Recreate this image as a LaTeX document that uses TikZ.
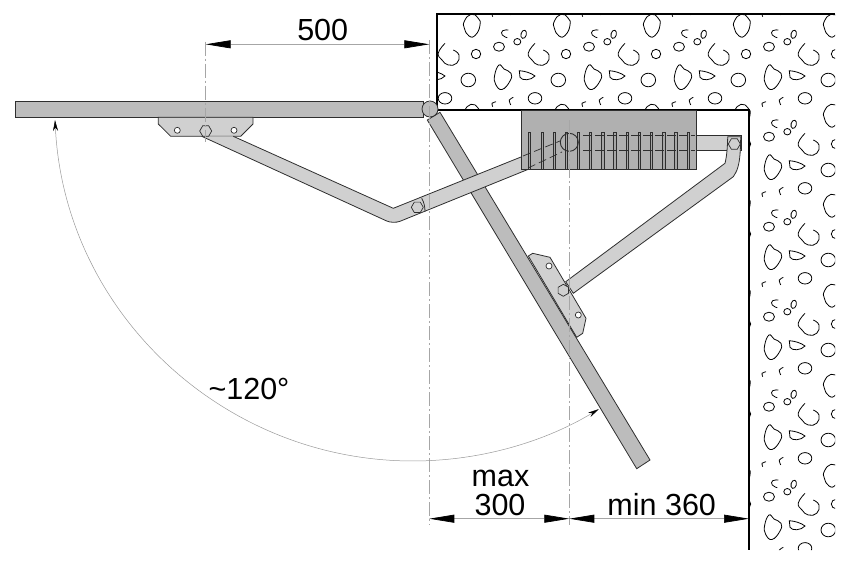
\documentclass[tikz,border=0pt]{standalone}
\usepackage{fontspec}
\setmainfont{Liberation Sans}
\usetikzlibrary{arrows.meta,shapes.geometric}
\definecolor{leafgray}{HTML}{BCBCBC}
\definecolor{armgray}{HTML}{D0D0D0}
\definecolor{blockgray}{HTML}{B0B0B0}
\definecolor{edgegray}{HTML}{2E2E2E}
\tikzset{
  stones/.pic={
    \draw plot [smooth cycle,tension=0.9] coordinates {(464.5,-21) (471,-14.3) (478,-18) (480,-25) (475.5,-35) (469,-36) (464.3,-28)};
    \draw plot [smooth,tension=0.9] coordinates {(508.3,-30) (502.7,-30.7) (502.3,-35) (507.3,-37.7)};
    \draw [rotate around={-15:(523.7,-34.3)}] (523.7,-34.3) ellipse (2.7 and 4.2);
    \draw (517.3,-41.7) ellipse (3.5 and 3.2);
    \draw (499,-46.7) ellipse (5.5 and 4.5);
    \draw plot [smooth,tension=0.8] coordinates {(535,-43.3) (528.3,-53) (532,-60) (538.3,-65) (546.7,-63.3) (549,-55) (543.3,-50)};
    \draw (476,-54) circle (4.7);
    \draw plot [smooth cycle,tension=0.8] coordinates {(494.7,-75) (499,-65) (504,-69) (511,-73.3) (510,-81) (502,-89.5) (495.5,-84)};
    \draw (519.3,-70.7) .. controls (525,-71) and (531,-73) .. (535,-76) .. controls (531,-80.5) and (522,-81) .. (520,-77.3) -- cycle;
    \draw (468.3,-80) ellipse (7.3 and 6.8);
    \draw (445,-98.3) ellipse (6.8 and 5.7);
    \draw plot [smooth] coordinates {(496,-101.7) (492,-103.3) (492.7,-106.7)};
    \draw plot [smooth] coordinates {(513.3,-97.3) (509.3,-100) (510.7,-105)};
  },
  boltnode/.style={draw=edgegray,regular polygon,regular polygon sides=6,minimum size=12pt,inner sep=0pt,line width=0.7pt},
  holenode/.style={draw=edgegray,fill=white,circle,minimum size=6pt,inner sep=0pt,line width=0.7pt},
  dimline/.style={draw=gray!70,line width=0.7pt,{Stealth[black,inset=0pt,length=25pt,width=8pt]}-{Stealth[black,inset=0pt,length=25pt,width=8pt]}},
  centerline/.style={draw=gray!70,line width=0.6pt,dash pattern=on 14pt off 3pt on 2pt off 3pt},
  part/.style={draw=edgegray,line width=0.8pt},
  dimtext/.style={font=\fontsize{30.5}{30.5}\selectfont,inner sep=0pt}
}
\begin{document}
\begin{tikzpicture}[x=1pt,y=1pt]
\useasboundingbox (0,0) rectangle (850,-560);
\begin{scope}
\clip (437,-14) -- (835,-14) -- (835,-550) -- (749,-550) -- (749,-110) -- (437,-110) -- cycle;
\foreach \i in {-1,...,4}
  \foreach \j in {-1,...,6}
    \pic [black,line width=0.8pt] at (\i*90,-\j*90) {stones};
\end{scope}
\draw [black,line width=1.6pt] (835,-14) -- (437,-14) -- (437,-110) -- (749,-110) -- (749,-550);
\draw [part,fill=leafgray] (427.3,-120) -- (440,-112.3) -- (650,-460) -- (636.7,-468.7) -- cycle;
\draw [part,fill=armgray] (528.3,-256) -- (532.7,-253.3) -- (550,-257.3) -- (586,-318.3) -- (582.7,-333.3) -- (576.7,-337.3) -- cycle;
\draw [part,fill=leafgray] (15.5,-101.3) rectangle (423,-117.3);
\draw [part,fill=armgray] (158.3,-117.3) -- (158.3,-124) -- (170.7,-136.3) -- (240.7,-136.3) -- (253,-124) -- (253,-117.3) -- cycle;
\node [part,fill=leafgray,circle,minimum size=16pt,inner sep=0pt] (hinge) at (430,-109) {};
\draw [part,fill=armgray] (201.7,-136.3) -- (386.7,-221) .. controls (390,-222.5) and (396,-222.8) .. (400,-221.3) -- (528.3,-169.3) -- (521.7,-156.7) -- (393.3,-208.3) -- (233.3,-136.3);
\draw [part] (421.7,-198.3) .. controls (424,-202) and (425,-207) .. (425,-211.7);
\draw [part,fill=armgray] (688,-135) -- (741.7,-135) -- (741.7,-150) -- (688,-150) -- cycle;
\draw [part,fill=armgray] (565.7,-281.7) -- (725,-163.3) .. controls (727,-155) and (727.5,-146) .. (727.7,-136.7) -- (740.7,-136.7) .. controls (740.5,-150) and (740,-160) .. (738,-166.7) .. controls (737,-171) and (735,-174) .. (733.3,-176.7) -- (573.3,-293.3) -- cycle;
\draw [edgegray,fill=blockgray,line width=0.7pt] (521.7,-110) rectangle (696.7,-169.3);
\foreach \x in {529.3,542,554,566,578.3,590.3,602.7,614.7,627,639,651.3,663.7,675.7,688}
  \draw [edgegray,fill=gray!70,line width=0.6pt] (\x-1.2,-132.3) rectangle (\x+1.2,-169.3);
\draw [edgegray,line width=0.7pt,dashed,dash pattern=on 9pt off 3pt] (583,-135) -- (695,-135);
\draw [edgegray,line width=0.7pt,dashed,dash pattern=on 9pt off 3pt] (583,-150) -- (695,-150);
\draw [edgegray,line width=0.7pt,dashed,dash pattern=on 8pt off 4pt] (523,-156) -- (560,-141);
\draw [edgegray,line width=0.7pt,dashed,dash pattern=on 8pt off 4pt] (528,-168) -- (562,-152);
\node [draw=edgegray,circle,minimum size=18pt,inner sep=0pt,line width=0.9pt] (pivot) at (569.3,-142.3) {};
\node [holenode] (holeA) at (177.3,-130.3) {};
\node [holenode] (holeB) at (234,-130.3) {};
\node [holenode] (holeC) at (549,-266) {};
\node [holenode] (holeD) at (578.3,-315) {};
\node [boltnode,fill=armgray] (boltA) at (205.7,-131) {};
\node [boltnode] (boltB) at (417.3,-207.3) {};
\node [boltnode,fill=armgray] (boltC) at (734.3,-144) {};
\node [boltnode,fill=armgray,rotate=30] (boltD) at (563.3,-290.3) {};
\coordinate (axisAtop) at (205.7,-41.7);
\coordinate (axisAbot) at (205.7,-141.7);
\coordinate (axisBtop) at (429.3,-40);
\coordinate (axisBbot) at (429.3,-525);
\coordinate (axisCtop) at (569.3,-120);
\coordinate (axisCbot) at (569.3,-525);
\draw [centerline] (axisAtop) -- (axisAbot);
\draw [centerline] (axisBtop) -- (axisBbot);
\draw [centerline] (axisCtop) -- (axisCbot);
\coordinate (dimAleft) at (205.7,-44.3);
\coordinate (dimAright) at (429.3,-44.3);
\coordinate (dimBleft) at (429.3,-518.7);
\coordinate (dimBmid) at (569.3,-518.7);
\coordinate (dimBright) at (749,-518.7);
\draw [dimline] (dimAleft) -- (dimAright);
\draw [dimline] (dimBleft) -- (dimBmid);
\draw [dimline] (dimBmid) -- (dimBright);
\coordinate (swingstart) at (55,-120);
\draw [gray!80,line width=0.5pt,{Stealth[black,length=11pt,width=5pt]}-{Stealth[black,length=11pt,width=5pt]}] (swingstart) arc [start angle=182.8,end angle=301.2,radius=358.5];
\node [dimtext] (lblA) at (322.7,-30) {500};
\node [dimtext] (lblB) at (500.5,-478) {max};
\node [dimtext] (lblC) at (500,-505) {300};
\node [dimtext] (lblD) at (661.7,-505) {min 360};
\node [dimtext] (lblE) at (249,-389) {\char"7E 120°};
\end{tikzpicture}
\end{document}
